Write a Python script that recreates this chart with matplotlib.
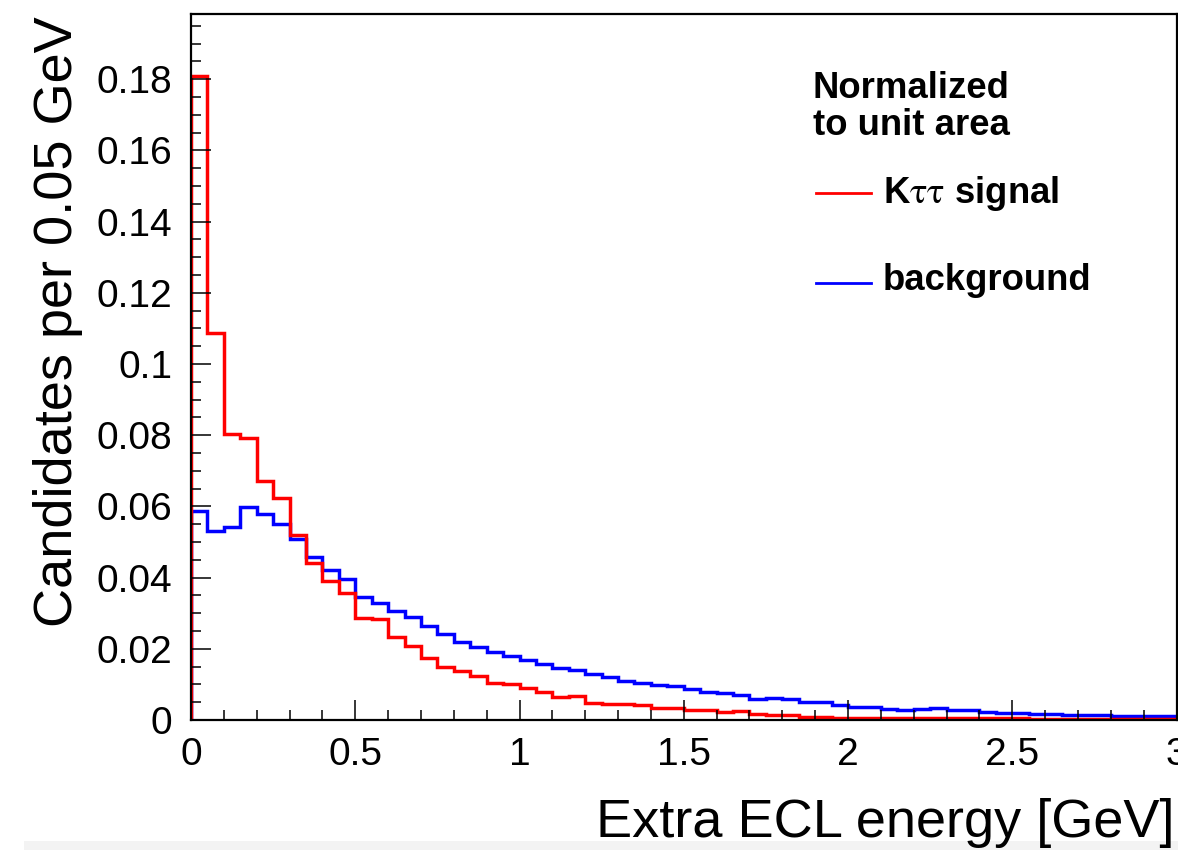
import numpy as np
import matplotlib
matplotlib.use("Agg")
import matplotlib.pyplot as plt
from matplotlib.patches import Rectangle
from matplotlib.ticker import MultipleLocator, FixedLocator

plt.rcParams['font.family'] = ['Liberation Sans', 'DejaVu Sans']
plt.rcParams['mathtext.fontset'] = 'stix'

# ---- data ----
bin_width = 0.05
x_min, x_max = 0.0, 3.0

signal = [0.1810, 0.1086, 0.0802, 0.0792, 0.0670, 0.0624, 0.0519, 0.0441, 0.0390, 0.0356,
          0.0287, 0.0284, 0.0232, 0.0208, 0.0174, 0.0149, 0.0138, 0.0123, 0.0105, 0.0101,
          0.0091, 0.0080, 0.0066, 0.0068, 0.0049, 0.0044, 0.0046, 0.0042, 0.0034, 0.0034,
          0.0028, 0.0028, 0.0023, 0.0024, 0.0017, 0.0014, 0.0013, 0.0009, 0.0008, 0.0007,
          0.0007, 0.0007, 0.0006, 0.0006, 0.0006, 0.0005, 0.0005, 0.0005, 0.0005, 0.0005,
          0.0005, 0.0004, 0.0004, 0.0004, 0.0004, 0.0004, 0.0004, 0.0003, 0.0003, 0.0003]

background = [0.0586, 0.0532, 0.0542, 0.0598, 0.0579, 0.0550, 0.0508, 0.0459, 0.0422, 0.0396,
              0.0345, 0.0330, 0.0305, 0.0288, 0.0264, 0.0242, 0.0219, 0.0206, 0.0191, 0.0181,
              0.0169, 0.0158, 0.0145, 0.0141, 0.0129, 0.0120, 0.0110, 0.0105, 0.0097, 0.0096,
              0.0086, 0.0080, 0.0077, 0.0069, 0.0058, 0.0063, 0.0058, 0.0051, 0.0051, 0.0041,
              0.0037, 0.0036, 0.0032, 0.0028, 0.0030, 0.0033, 0.0027, 0.0027, 0.0022, 0.0020,
              0.0020, 0.0016, 0.0016, 0.0015, 0.0015, 0.0013, 0.0012, 0.0012, 0.0011, 0.0011]

y_ticks = [0, 0.02, 0.04, 0.06, 0.08, 0.1, 0.12, 0.14, 0.16, 0.18]
y_tick_labels = ["0", "0.02", "0.04", "0.06", "0.08", "0.1", "0.12", "0.14", "0.16", "0.18"]
x_ticks = [0, 0.5, 1, 1.5, 2, 2.5, 3]
x_tick_labels = ["0", "0.5", "1", "1.5", "2", "2.5", "3"]

x_label = "Extra ECL energy [GeV]"
y_label = "Candidates per 0.05 GeV"
legend_title = ["Normalized", "to unit area"]
signal_label = r"K$\mathrm{\tau\tau}$ signal"
background_label = "background"

# ---- figure ----
W, H = 1178, 850
fig = plt.figure(figsize=(W / 100, H / 100), dpi=100)
fig.patch.set_facecolor('white')

def fx(px):
    return px / W

def fy(py):
    return 1 - py / H

ax = fig.add_axes([fx(191), fy(720), fx(1176.5) - fx(191), fy(14) - fy(720)])

edges = np.linspace(x_min, x_max, len(signal) + 1)
ax.stairs(background, edges, color='#0000ff', lw=2.5, baseline=0)
ax.stairs(signal, edges, color='#ff0000', lw=2.5, baseline=0)

ax.set_xlim(x_min, x_max)
ax.set_ylim(0, 0.1983)

ax.xaxis.set_major_locator(FixedLocator(x_ticks))
ax.set_xticklabels(x_tick_labels)
ax.xaxis.set_minor_locator(MultipleLocator(0.1))
ax.yaxis.set_major_locator(FixedLocator(y_ticks))
ax.set_yticklabels(y_tick_labels)
ax.yaxis.set_minor_locator(MultipleLocator(0.005))

ax.tick_params(which='both', direction='in', top=False, right=False, width=1.1, color='black')
ax.tick_params(which='major', length=14.4)
ax.tick_params(which='minor', length=7.2)
ax.tick_params(axis='x', which='major', labelsize=28, pad=12)
ax.tick_params(axis='y', which='major', labelsize=28, pad=13.5)

for sp in ax.spines.values():
    sp.set_linewidth(1.6)
    sp.set_color('black')

# axis titles
fig.text(fx(1175), fy(836.7), x_label, fontsize=39, ha='right', va='baseline')
fig.text(fx(33), fy(16), y_label, fontsize=39, rotation=90, ha='left', va='top')

# legend
fs_leg = 26.3
fig.text(fx(812.7), fy(98.3), legend_title[0], fontsize=fs_leg, fontweight='bold', va='baseline')
fig.text(fx(812.7), fy(135), legend_title[1], fontsize=fs_leg, fontweight='bold', va='baseline')
fig.add_artist(plt.Line2D([fx(816), fx(871)], [fy(193.3), fy(193.3)], color='#ff0000', lw=2.0,
                          transform=fig.transFigure))
fig.add_artist(plt.Line2D([fx(816), fx(871)], [fy(282.7), fy(282.7)], color='#0000ff', lw=2.0,
                          transform=fig.transFigure))
fig.text(fx(883), fy(203.3), signal_label, fontsize=fs_leg, fontweight='bold', va='baseline')
fig.text(fx(883), fy(290), background_label, fontsize=fs_leg, fontweight='bold', va='baseline')

# light strip at the bottom of the screenshot
fig.patches.append(Rectangle((fx(24), 0), 1, 9 / H, transform=fig.transFigure,
                             facecolor='#f3f3f3', edgecolor='none', zorder=-1))

fig.savefig("out.png", dpi=100)
